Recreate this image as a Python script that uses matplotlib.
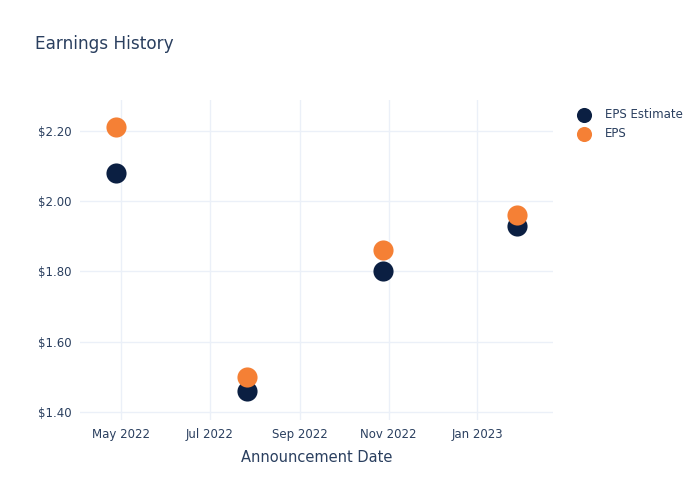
import numpy as np
import matplotlib.pyplot as plt
import matplotlib.dates as mdates
from matplotlib.ticker import FuncFormatter
import datetime as dt

# announcement dates and values
dates = [dt.date(2022, 4, 28), dt.date(2022, 7, 27), dt.date(2022, 10, 28), dt.date(2023, 1, 28)]
eps_estimate = [2.08, 1.46, 1.80, 1.93]
eps_actual = [2.21, 1.50, 1.86, 1.96]

text_color = '#2a3f5f'
grid_color = '#ebf0f8'

fig = plt.figure(figsize=(7, 5), dpi=100)
ax = fig.add_axes([80/700, 80/500, 473/700, 320/500])

ax.scatter(dates, eps_estimate, s=210, color='#0b1f42', label='EPS Estimate', zorder=3, linewidths=0)
ax.scatter(dates, eps_actual, s=210, color='#f58035', label='EPS', zorder=4, linewidths=0)

ax.set_xlim(dt.date(2022, 4, 3), dt.date(2023, 2, 22))
ax.set_ylim(1.377, 2.288)
ax.set_yticks([1.4, 1.6, 1.8, 2.0, 2.2])
ax.yaxis.set_major_formatter(FuncFormatter(lambda v, p: '$%.2f' % v))
ax.xaxis.set_major_locator(mdates.MonthLocator(bymonth=[1, 3, 5, 7, 9, 11]))
ax.xaxis.set_major_formatter(mdates.DateFormatter('%b %Y'))

ax.grid(True, color=grid_color, linewidth=1)
ax.set_axisbelow(True)
for s in ax.spines.values():
    s.set_visible(False)
ax.tick_params(length=0, labelsize=8.5, colors=text_color, pad=6)

ax.set_xlabel('Announcement Date', fontsize=10.5, color=text_color, labelpad=6)
fig.text(35/700, 1 - 44/500, 'Earnings History', fontsize=12.2, color=text_color, va='center')

ax.legend(loc='upper left', bbox_to_anchor=(1.03, 0.99), frameon=False, fontsize=8.5,
          labelcolor=text_color, handletextpad=0.8, borderaxespad=0, labelspacing=0.55,
          markerscale=0.75)

fig.savefig('out.png', dpi=100)
